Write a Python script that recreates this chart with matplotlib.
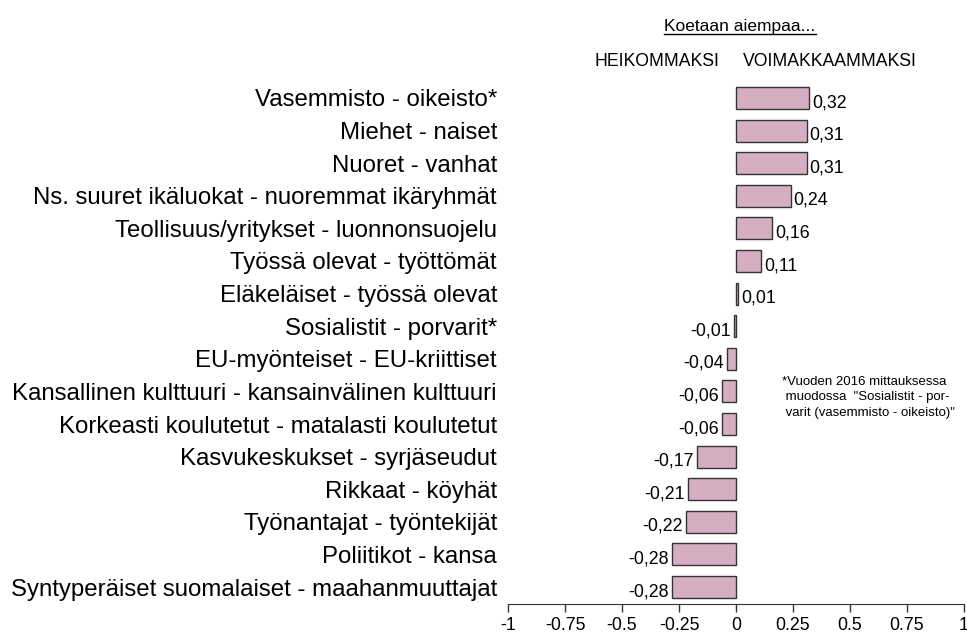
import matplotlib
matplotlib.use("Agg")
import matplotlib.pyplot as plt
from matplotlib.lines import Line2D

plt.rcParams["font.family"] = ["Liberation Sans", "DejaVu Sans"]

categories = [
    "Vasemmisto - oikeisto*",
    "Miehet - naiset",
    "Nuoret - vanhat",
    "Ns. suuret ikäluokat - nuoremmat ikäryhmät",
    "Teollisuus/yritykset - luonnonsuojelu",
    "Työssä olevat - työttömät",
    "Eläkeläiset - työssä olevat",
    "Sosialistit - porvarit*",
    "EU-myönteiset - EU-kriittiset",
    "Kansallinen kulttuuri - kansainvälinen kulttuuri",
    "Korkeasti koulutetut - matalasti koulutetut",
    "Kasvukeskukset - syrjäseudut",
    "Rikkaat - köyhät",
    "Työnantajat - työntekijät",
    "Poliitikot - kansa",
    "Syntyperäiset suomalaiset - maahanmuuttajat",
]
values = [0.32, 0.31, 0.31, 0.24, 0.16, 0.11, 0.01, -0.01, -0.04, -0.06,
          -0.06, -0.17, -0.21, -0.22, -0.28, -0.28]
xticks = [-1, -0.75, -0.5, -0.25, 0, 0.25, 0.5, 0.75, 1]
xtick_labels = ["-1", "-0.75", "-0.5", "-0.25", "0", "0.25", "0.5", "0.75", "1"]

title = "Koetaan aiempaa..."
left_head = "HEIKOMMAKSI"
right_head = "VOIMAKKAAMMAKSI"
note = ('*Vuoden 2016 mittauksessa\n muodossa  "Sosialistit - por-\n'
        ' varit (vasemmisto - oikeisto)"')

W, H = 967, 634
fig = plt.figure(figsize=(W / 100, H / 100), dpi=100)
ax = fig.add_axes([508 / W, 1 - 604 / H, 456 / W, (604 - 81) / H])

pos = list(range(len(values)))
ax.barh(pos, values, height=0.675, color="#d6aec1", edgecolor="#333333", linewidth=1.0)
ax.set_xlim(-1, 1)
ax.set_ylim(len(values) - 1 + 0.52, -0.52)

for y, v in zip(pos, values):
    s = f"{v:.2f}".replace(".", ",")
    if v >= 0:
        ax.annotate(s, (v, y + 0.28), xytext=(3, 0), textcoords="offset pixels",
                    ha="left", va="baseline", fontsize=12.8)
    else:
        ax.annotate(s, (v, y + 0.28), xytext=(-3, 0), textcoords="offset pixels",
                    ha="right", va="baseline", fontsize=12.8)

ax.set_yticks(pos)
ax.set_yticklabels(categories, fontsize=17.3)
ax.tick_params(axis="y", length=0, pad=8)
ax.set_xticks(xticks)
ax.set_xticklabels(xtick_labels, fontsize=12.8)
ax.tick_params(axis="x", length=6, width=1, pad=3, color="#333333")
for side in ("top", "right", "left"):
    ax.spines[side].set_visible(False)
ax.spines["bottom"].set_color("#333333")

t = fig.text(740 / W, 1 - 31 / H, title, ha="center", va="baseline", fontsize=12.5)
fig.text(719 / W, 1 - 66 / H, left_head, ha="right", va="baseline", fontsize=12.7)
fig.text(743 / W, 1 - 66 / H, right_head, ha="left", va="baseline", fontsize=12.7)
fig.text(782 / W, 1 - 376 / H, note, ha="left", va="top", fontsize=9.5, linespacing=1.38)

# underline the title
fig.canvas.draw()
bb = t.get_window_extent().transformed(fig.transFigure.inverted())
fig.add_artist(Line2D([bb.x0, bb.x1], [1 - 34 / H, 1 - 34 / H], color="black", lw=1))

fig.savefig("out.png", dpi=100)
